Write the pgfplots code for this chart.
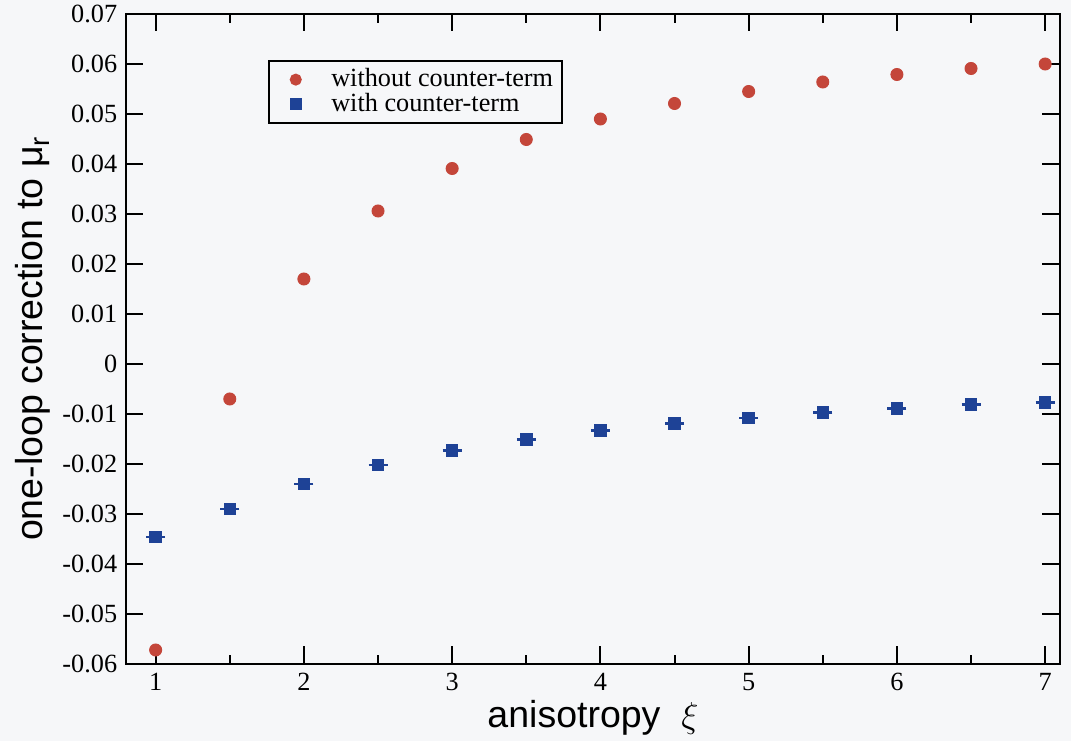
\documentclass[border=0pt]{standalone}
\usepackage{pgfplots}
\pgfplotsset{compat=1.18}
\usepackage{fontspec}
\setmainfont{Liberation Serif}
\newfontfamily\labelfont{Liberation Sans}
\definecolor{ptred}{RGB}{196,70,58}
\definecolor{ptblue}{RGB}{30,66,150}
\definecolor{bgpaper}{RGB}{246,247,249}
\begin{document}
\begin{tikzpicture}
\path[use as bounding box, fill=bgpaper] (-50.4pt,-30.8pt) rectangle (378pt,265.6pt);
\begin{axis}[
  scale only axis,
  width=373.6pt, height=260pt,
  xmin=0.8, xmax=7.1, ymin=-0.06, ymax=0.07,
  xtick={1,2,3,4,5,6,7},
  minor xtick={1.5,2.5,3.5,4.5,5.5,6.5},
  ytick={-0.06,-0.05,-0.04,-0.03,-0.02,-0.01,0,0.01,0.02,0.03,0.04,0.05,0.06,0.07},
  yticklabels={-0.06,-0.05,-0.04,-0.03,-0.02,-0.01,0,0.01,0.02,0.03,0.04,0.05,0.06,0.07},
  scaled y ticks=false,
  tick align=inside,
  major tick length=7pt, minor tick length=3.5pt,
  axis line style={line width=0.8pt},
  every tick/.style={black, line width=0.8pt},
  /pgf/number format/assume math mode=true,
  tick label style={font=\fontsize{10.5}{12}\selectfont},
  xlabel={\labelfont anisotropy\ \ $\xi$},
  ylabel={\labelfont one-loop correction to μ\raisebox{-0.35ex}{\fontsize{11}{12}\selectfont r}},
  label style={font=\fontsize{15}{17}\selectfont},
  xlabel style={yshift=3pt},
  ylabel style={yshift=-2pt},
  legend style={at={(0.152,0.929)}, anchor=north west, draw=black, line width=0.8pt,
    fill=none, font=\fontsize{10.5}{12}\selectfont, inner xsep=2.5pt, inner ysep=2.5pt,
    nodes={inner xsep=1pt, inner ysep=0.5pt}, row sep=0pt, cells={anchor=west}},
  legend cell align=left,
  legend image code/.code={\path (0cm,0cm) (0.725cm,0cm); \draw[mark size=2pt] plot coordinates {(0.275cm,0cm)};},
]
\addplot[only marks, mark=*, mark size=2.4pt, color=ptred] coordinates {
(1,-0.0572) (1.5,-0.0070) (2,0.0170) (2.5,0.0306) (3,0.0391) (3.5,0.0449)
(4,0.0490) (4.5,0.0521) (5,0.0545) (5.5,0.0564) (6,0.0579) (6.5,0.0591) (7,0.0600)
};
\addlegendentry{without counter-term}
\addplot[only marks, mark=square*, mark size=2.3pt, color=ptblue,
  error bars/.cd, y dir=both, y explicit,
  error mark options={rotate=90, mark size=3.8pt, line width=0.8pt, ptblue},
  error bar style={line width=0.8pt, ptblue}] coordinates {
(1,-0.0346) +- (0,0.00005) (1.5,-0.0290) +- (0,0.00005) (2,-0.0240) +- (0,0.00005)
(2.5,-0.0202) +- (0,0.00005) (3,-0.0173) +- (0,0.00005) (3.5,-0.0151) +- (0,0.00005)
(4,-0.0133) +- (0,0.00005) (4.5,-0.0119) +- (0,0.00005) (5,-0.0108) +- (0,0.00005)
(5.5,-0.0097) +- (0,0.00005) (6,-0.0089) +- (0,0.00005) (6.5,-0.0081) +- (0,0.00005)
(7,-0.0077) +- (0,0.00005)
};
\addlegendentry{with counter-term}
\end{axis}
\end{tikzpicture}
\end{document}
